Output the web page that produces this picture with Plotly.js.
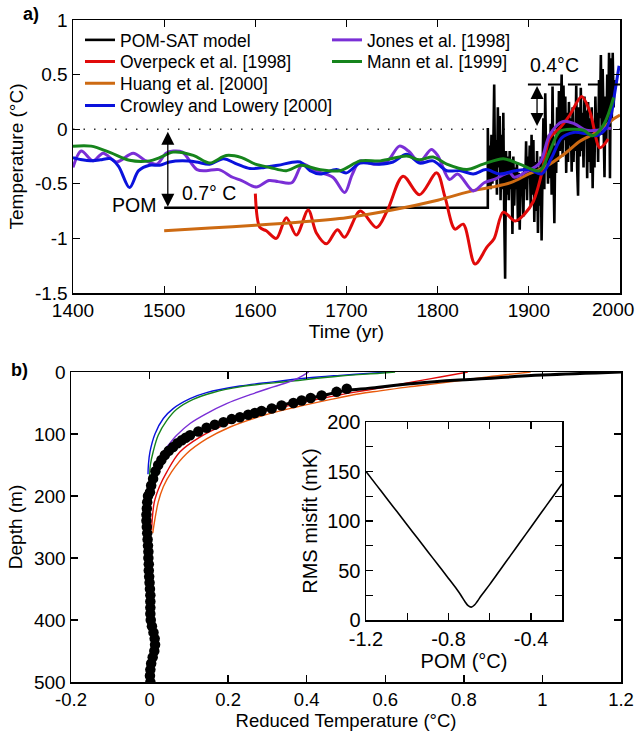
<!DOCTYPE html>
<html><head><meta charset="utf-8">
<script src="https://cdn.plot.ly/plotly-3.0.1.min.js"></script>
<style>body{margin:0;padding:0;background:#fff}#chart{width:637px;height:734px}</style>
</head><body><div id="chart"></div>
<script>
// ---------- Panel a) data ----------
const seriesNames = ["POM-SAT model","Overpeck et al. [1998]","Huang et al. [2000]","Crowley and Lowery [2000]","Jones et al. [1998]","Mann et al. [1999]"];

const pomYears = [1500, 1855];
const pomValues = [-0.72, -0.72];
const satFirstYear = 1855;
const satValues = [
 0.01,-0.45,-0.15,-0.55,-0.05,-0.50,-0.20,0.41,-0.45,-0.10,
 -0.60,0.20,-0.35,0.12,-0.65,-0.05,-0.55,0.15,-0.80,-1.37,
 -0.20,-0.60,-0.25,-0.65,-0.20,-0.55,-0.30,-0.96,-0.25,-0.70,
 -0.35,-0.55,-0.30,-0.85,-0.40,-0.92,-0.45,-0.60,-0.40,-0.80,
 -0.35,-0.55,-0.11,-0.65,-0.25,-0.45,-0.15,-0.70,-0.05,-0.60,
 -0.10,-0.85,-0.30,-0.75,-0.20,-0.95,-0.35,-0.70,-0.25,-1.02,
 -0.40,0.10,-0.55,0.33,-0.30,-0.10,-0.50,-0.05,-0.45,0.05,
 -0.60,0.39,-0.35,-0.86,-0.15,-0.40,0.20,-0.30,0.35,-0.20,
 0.10,0.50,-0.25,0.40,-0.10,0.30,-0.40,0.15,-0.30,0.25,
 -0.15,0.10,-0.39,0.20,-0.30,0.05,-0.20,0.40,-0.35,-0.61,
 0.20,-0.25,0.38,-0.20,0.15,-0.35,0.30,-0.10,0.17,-0.45,
 0.25,-0.30,0.10,-0.40,0.20,-0.54,0.05,-0.35,0.30,-0.10,
 0.15,-0.30,0.45,0.10,0.68,-0.05,0.55,0.00,-0.44,0.30,
 -0.10,0.50,0.05,0.70,-0.45,0.65,0.10,0.70,0.20,0.45];

const overpeckYears = [1600,1605,1612,1623,1634,1645,1658,1667,1678,1690,1698,1715,1733,1745,1762,1780,1799,1808,1819,1828,1841,1854,1862,1872,1885,1895,1905,1914,1923,1934,1945,1958,1967,1978,1987];
const overpeckValues = [-0.59,-0.90,-0.93,-1.00,-0.81,-0.97,-0.74,-0.95,-1.05,-0.92,-0.99,-0.75,-0.90,-0.74,-0.43,-0.60,-0.40,-0.62,-0.915,-0.87,-1.235,-1.08,-1.00,-0.76,-0.84,-0.78,-0.66,-0.41,-0.08,0.01,0.13,0.30,0.16,-0.17,-0.09];

const huangYears = [1500,1550,1600,1650,1700,1750,1800,1840,1860,1880,1900,1919,1940,1956,1974,1994,2000];
const huangValues = [-0.93,-0.905,-0.88,-0.85,-0.81,-0.74,-0.65,-0.56,-0.53,-0.49,-0.41,-0.34,-0.22,-0.11,-0.03,0.10,0.13];

const crowleyYears = [1400,1410,1419,1430,1441,1450,1462,1472,1484,1495,1506,1520,1535,1550,1565,1580,1594,1610,1625,1649,1660,1671,1689,1700,1715,1736,1751,1766,1780,1795,1810,1825,1839,1853,1868,1885,1901,1914,1925,1936,1949,1962,1974,1985,1990,1994,1999];
const crowleyValues = [-0.26,-0.28,-0.29,-0.28,-0.27,-0.34,-0.535,-0.38,-0.33,-0.33,-0.30,-0.29,-0.30,-0.32,-0.27,-0.32,-0.36,-0.35,-0.33,-0.30,-0.38,-0.41,-0.37,-0.40,-0.31,-0.32,-0.30,-0.23,-0.31,-0.29,-0.38,-0.38,-0.41,-0.37,-0.41,-0.38,-0.37,-0.41,-0.26,-0.08,-0.03,-0.04,-0.06,0.01,0.12,0.32,0.58];

const jonesYears = [1400,1409,1422,1433,1448,1466,1480,1492,1502,1510,1520,1536,1546,1560,1575,1585,1601,1615,1625,1640,1652,1665,1685,1698,1706,1715,1730,1745,1758,1768,1780,1793,1800,1813,1822,1839,1851,1862,1879,1884,1897,1912,1923,1937,1950,1963,1975,1985,1990];
const jonesValues = [-0.35,-0.20,-0.29,-0.22,-0.30,-0.22,-0.29,-0.32,-0.22,-0.20,-0.21,-0.37,-0.38,-0.37,-0.44,-0.47,-0.53,-0.47,-0.48,-0.49,-0.32,-0.38,-0.44,-0.58,-0.42,-0.29,-0.32,-0.29,-0.155,-0.20,-0.30,-0.185,-0.24,-0.46,-0.41,-0.565,-0.49,-0.46,-0.40,-0.44,-0.39,-0.31,-0.05,0.07,0.05,-0.01,-0.01,0.01,0.006];

const mannYears = [1400,1420,1441,1462,1484,1495,1510,1532,1550,1568,1585,1600,1616,1634,1650,1670,1693,1715,1737,1766,1780,1795,1810,1832,1850,1872,1890,1912,1923,1934,1948,1960,1970,1982,1993];
const mannValues = [-0.155,-0.155,-0.215,-0.285,-0.29,-0.26,-0.21,-0.24,-0.31,-0.24,-0.26,-0.32,-0.35,-0.38,-0.33,-0.37,-0.38,-0.29,-0.29,-0.246,-0.28,-0.255,-0.32,-0.37,-0.32,-0.27,-0.32,-0.38,-0.20,-0.02,0.00,-0.01,-0.06,0.04,0.29];

const timeTicks = [1400,1500,1600,1700,1800,1900,2000];
const timeTickText = ["1400","1500","1600","1700","1800","1900",""];
const lastTimeLabel = "2000";
const tempTicks = [1,0.5,0,-0.5,-1,-1.5];
const tempTickText = ["1","0.5","0","-0.5","-1","-1.5"];

// ---------- Panel b) data ----------
const modelTemp  = [1.2,1.0,0.815,0.68,0.56,0.50,0.44,0.385,0.335,0.268,0.209,0.166,0.124,0.082,0.06,0.039,0.022,0.009,0.001,-0.003,-0.004,-0.002,0.0,0.002,0.01,0.005,0.0];
const modelDepth = [0,5,12,18,26,30,38,46,54,66,76,86,96,110,121,134,150,172,194,220,260,300,350,400,440,470,500];

const obsDepth = [27,32,38,42,46,50,54,59,63,66,69,73,76,81,85,90,96,102,106,110,115,121,127,134,142,150,160,172,183,194,
 200,210,220,230,240,250,260,270,280,290,300,310,320,330,340,350,360,370,380,390,400,410,420,430,440,450,460,470,480,490,500];
const obsTemp = [0.502,0.476,0.438,0.41,0.387,0.366,0.336,0.311,0.285,0.268,0.251,0.230,0.209,0.188,0.166,0.145,0.124,0.103,0.092,0.082,0.071,0.060,0.049,0.039,0.030,0.022,0.015,0.009,0.004,0.001,
 -0.004,-0.006,-0.007,-0.008,-0.008,-0.007,-0.006,-0.005,-0.004,-0.003,-0.003,-0.002,-0.002,-0.001,0.0,0.001,0.002,0.002,0.002,0.002,0.003,0.006,0.010,0.013,0.014,0.012,0.008,0.004,0.002,0.001,0.002];

const crowleyProfT = [0.62,0.586,0.485,0.40,0.315,0.23,0.145,0.103,0.06,0.035,0.014,0.001,-0.003,-0.004];
const crowleyProfD = [0,1,5.4,9.7,16,22.6,33.3,43,59,75,99.5,129,150,165];
const mannProfT = [0.625,0.586,0.485,0.357,0.23,0.162,0.111,0.069,0.044,0.022,0.009,0.002,0.0];
const mannProfD = [0,2,6.5,15,24,33,44,60,78,102,129,150,170];
const jonesProfT = [0.405,0.391,0.366,0.315,0.256,0.196,0.145,0.103,0.069,0.044,0.03];
const jonesProfD = [0,5.4,13.4,24,36.6,51,67,83,102,121,132];
const overpeckProfT = [0.81,0.74,0.67,0.586,0.527,0.442,0.357,0.273,0.188,0.128,0.077,0.044,0.025,0.012,0.005];
const overpeckProfD = [0,8,16,26,32,42,53.8,67,86,105,129,161,185,210,255];
const huangProfT = [0.97,0.86,0.73,0.66,0.586,0.535,0.459,0.374,0.29,0.205,0.145,0.094,0.056,0.035,0.022,0.008];
const huangProfD = [0,8,18.8,24,30.5,35,44.6,56.5,70,88.7,108,131.8,161,185,210,260];

const redTempTicks = [-0.2,0,0.2,0.4,0.6,0.8,1,1.2];
const redTempText = ["-0.2","0","0.2","0.4","0.6","0.8","1","1.2"];
const depthTicks = [0,100,200,300,400,500];

// ---------- Inset data ----------
const pomOffsets = [-1.2,-1.15,-1.1,-1.05,-1.0,-0.95,-0.9,-0.85,-0.8,-0.76,-0.74,-0.72,-0.705,-0.69,-0.675,-0.66,-0.64,-0.6,-0.55,-0.5,-0.45,-0.4,-0.35,-0.3,-0.25];
const rmsMisfit  = [150,136.5,123,109.5,96,82.5,69,55.5,42,31,25,18.5,14.5,13,15,19,25,36,50.5,65,79.5,94,108.5,123,137.5];
const insetXTicks = [-1.2,-1.0,-0.8,-0.6,-0.4];
const insetXText = ["-1.2","","-0.8","","-0.4"];
const insetYTicks = [0,25,50,75,100,125,150,175,200];
const insetYText = ["0","","50","","100","","150","","200"];

// ---------- styles ----------
const C = {black:"#000000", red:"#e10a0a", orange:"#cd6a12", blue:"#0a12dc", purple:"#7a2fd6", green:"#16841c", orangeRed:"#ea5a0c"};
const FONT = "Liberation Sans, Arial, Helvetica, sans-serif";

const satYears = satValues.map((v,i)=>satFirstYear+i);

const traces = [
 {x: pomYears.concat(satYears), y: pomValues.concat(satValues), type:"scatter", mode:"lines", name:seriesNames[0],
  line:{color:C.black, width:2.6}, xaxis:"x", yaxis:"y", legend:"legend"},
 {x: overpeckYears, y: overpeckValues, type:"scatter", mode:"lines", name:seriesNames[1],
  line:{color:C.red, width:3, shape:"spline", smoothing:0.9}, xaxis:"x", yaxis:"y", legend:"legend2"},
 {x: huangYears, y: huangValues, type:"scatter", mode:"lines", name:seriesNames[2],
  line:{color:C.orange, width:3, shape:"spline", smoothing:0.9}, xaxis:"x", yaxis:"y", legend:"legend3"},
 {x: jonesYears, y: jonesValues, type:"scatter", mode:"lines", name:seriesNames[4],
  line:{color:C.purple, width:3, shape:"spline", smoothing:0.9}, xaxis:"x", yaxis:"y", legend:"legend5"},
 {x: crowleyYears, y: crowleyValues, type:"scatter", mode:"lines", name:seriesNames[3],
  line:{color:C.blue, width:3, shape:"spline", smoothing:0.9}, xaxis:"x", yaxis:"y", legend:"legend4"},
 {x: mannYears, y: mannValues, type:"scatter", mode:"lines", name:seriesNames[5],
  line:{color:C.green, width:3, shape:"spline", smoothing:0.9}, xaxis:"x", yaxis:"y", legend:"legend6"},

 // panel b
 {x: crowleyProfT, y: crowleyProfD, type:"scatter", mode:"lines", showlegend:false, line:{color:C.blue, width:1.4, shape:"spline"}, xaxis:"x2", yaxis:"y2"},
 {x: mannProfT, y: mannProfD, type:"scatter", mode:"lines", showlegend:false, line:{color:C.green, width:1.4, shape:"spline"}, xaxis:"x2", yaxis:"y2"},
 {x: jonesProfT, y: jonesProfD, type:"scatter", mode:"lines", showlegend:false, line:{color:C.purple, width:1.4, shape:"spline"}, xaxis:"x2", yaxis:"y2"},
 {x: overpeckProfT, y: overpeckProfD, type:"scatter", mode:"lines", showlegend:false, line:{color:C.red, width:1.4, shape:"spline"}, xaxis:"x2", yaxis:"y2"},
 {x: huangProfT, y: huangProfD, type:"scatter", mode:"lines", showlegend:false, line:{color:C.orangeRed, width:1.4, shape:"spline"}, xaxis:"x2", yaxis:"y2"},
 {x: modelTemp, y: modelDepth, type:"scatter", mode:"lines", showlegend:false, line:{color:C.black, width:3, shape:"spline"}, xaxis:"x2", yaxis:"y2"},
 {x: obsTemp, y: obsDepth, type:"scatter", mode:"markers", showlegend:false, marker:{color:C.black, size:10.5}, xaxis:"x2", yaxis:"y2"},

 // inset
 {x: pomOffsets, y: rmsMisfit, type:"scatter", mode:"lines", showlegend:false, line:{color:C.black, width:1.6, shape:"spline", smoothing:1}, xaxis:"x3", yaxis:"y3"}
];

const axisBase = {showline:true, linecolor:"#000", linewidth:1.5, mirror:"ticks", ticks:"inside", tickcolor:"#000", tickwidth:1.3, ticklen:7, showgrid:false, zeroline:false, ticklabeloverflow:"allow"};

function leg(xpx, ypx){ return {x:xpx/637, y:1-ypx/734, xanchor:"left", yanchor:"middle", bgcolor:"rgba(0,0,0,0)", borderwidth:0, font:{family:FONT, size:17.5, color:"#000"}}; }

const layout = {
 width:637, height:734, margin:{l:0,r:0,t:0,b:0}, paper_bgcolor:"#fff", plot_bgcolor:"rgba(0,0,0,0)",
 font:{family:FONT, color:"#000"},
 xaxis: Object.assign({}, axisBase, {domain:[73/637, 620/637], anchor:"y", range:[1400,2000], tickvals:timeTicks, ticktext:timeTickText, tickfont:{size:19},
   title:{text:"Time (yr)", font:{size:19}, standoff:4}}),
 yaxis: Object.assign({}, axisBase, {domain:[1-293/734, 1-20/734], anchor:"x", range:[-1.5,1], tickvals:tempTicks, ticktext:tempTickText, tickfont:{size:19},
   title:{text:"Temperature (°C)", font:{size:19}, standoff:6}}),
 xaxis2: Object.assign({}, axisBase, {domain:[71/637, 621/637], anchor:"y2", range:[-0.2,1.2], tickvals:redTempTicks, ticktext:redTempText, tickfont:{size:18.5},
   title:{text:"Reduced Temperature (°C)", font:{size:18.5}, standoff:4}}),
 yaxis2: Object.assign({}, axisBase, {domain:[1-682/734, 1-372/734], anchor:"x2", range:[500,0], tickvals:depthTicks, tickfont:{size:19},
   title:{text:"Depth (m)", font:{size:19}, standoff:6}}),
 xaxis3: Object.assign({}, axisBase, {domain:[366/637, 562/637], anchor:"y3", range:[-1.2,-0.25], tickvals:insetXTicks, ticktext:insetXText, tickfont:{size:20},
   title:{text:"POM (°C)", font:{size:20}, standoff:2}}),
 yaxis3: Object.assign({}, axisBase, {domain:[1-620/734, 1-422/734], anchor:"x3", range:[0,200], tickvals:insetYTicks, ticktext:insetYText, tickfont:{size:20},
   title:{text:"RMS misfit (mK)", font:{size:20}, standoff:4}}),
 legend: leg(80, 40), legend2: leg(80, 61.7), legend3: leg(80, 83.3), legend4: leg(80, 105.7),
 legend5: leg(327, 40), legend6: leg(327, 61.7),
 shapes:[
  {type:"line", xref:"x", yref:"y", x0:1400, x1:2000, y0:0, y1:0, layer:"below", line:{color:"#333", width:1.5, dash:"1.5px,9px"}},
  {type:"line", xref:"x", yref:"y", x0:1899, x1:2000, y0:0.41, y1:0.41, line:{color:"#000", width:2, dash:"13px,7px"}}
 ],
 annotations:[
  {xref:"x", yref:"y", axref:"x", ayref:"y", x:1504, y:-0.71, ax:1504, ay:-0.01, text:"", showarrow:true, arrowside:"end+start", arrowhead:2, startarrowhead:2, arrowsize:2, startarrowsize:2, arrowwidth:1.3, arrowcolor:"#000", standoff:0, startstandoff:0},
  {xref:"x", yref:"y", axref:"x", ayref:"y", x:1909, y:0.03, ax:1909, ay:0.41, text:"", showarrow:true, arrowside:"end+start", arrowhead:2, startarrowhead:2, arrowsize:2, startarrowsize:2, arrowwidth:1.3, arrowcolor:"#000", standoff:0, startstandoff:0},
  {xref:"x", yref:"y", x:1493, y:-0.69, text:"POM", showarrow:false, xanchor:"right", yanchor:"middle", font:{size:19.5, family:FONT}},
  {xref:"x", yref:"y", x:1517, y:-0.58, text:"0.7° C", showarrow:false, xanchor:"left", yanchor:"middle", font:{size:19.5, family:FONT}},
  {xref:"x", yref:"y", x:1928, y:0.59, text:"0.4°C", showarrow:false, xanchor:"center", yanchor:"middle", font:{size:19.5, family:FONT}},
  {xref:"paper", yref:"paper", x:1, y:1-309/734, text:lastTimeLabel, showarrow:false, xanchor:"right", yanchor:"middle", xshift:-1, font:{size:19, family:FONT}},
  {xref:"paper", yref:"paper", x:31/637, y:1-14/734, text:"<b>a)</b>", showarrow:false, xanchor:"center", yanchor:"middle", font:{size:18, family:FONT}},
  {xref:"paper", yref:"paper", x:19/637, y:1-370/734, text:"<b>b)</b>", showarrow:false, xanchor:"center", yanchor:"middle", font:{size:18, family:FONT}}
 ]
};

Plotly.newPlot("chart", traces, layout, {displayModeBar:false, staticPlot:true});
</script></body></html>
